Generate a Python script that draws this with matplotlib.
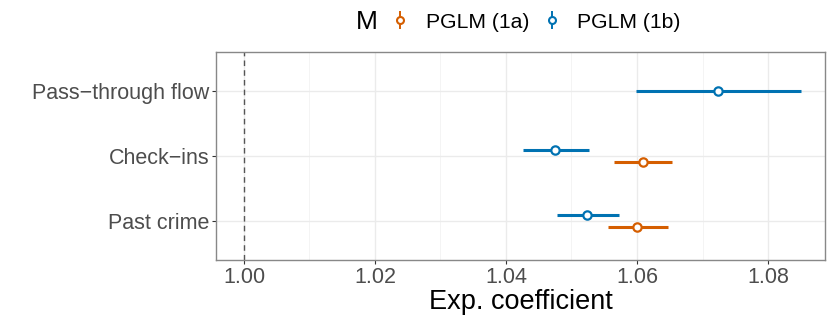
import numpy as np
import matplotlib.pyplot as plt
from matplotlib.lines import Line2D
from matplotlib.ticker import MultipleLocator

plt.rcParams['font.family'] = ['Liberation Sans', 'DejaVu Sans']

# data
categories = ['Past crime', 'Check\u2212ins', 'Pass\u2212through flow']
models = ['PGLM (1a)', 'PGLM (1b)']
colors = ['#D55E00', '#0072B2']

est_1a = [1.0600, 1.0609, np.nan]
lo_1a = [1.0555, 1.0565, np.nan]
hi_1a = [1.0647, 1.0654, np.nan]

est_1b = [1.0524, 1.0475, 1.0723]
lo_1b = [1.0478, 1.0426, 1.0598]
hi_1b = [1.0573, 1.0527, 1.0850]

fig = plt.figure(figsize=(8.3, 3.16), dpi=100)
ax = fig.add_axes([0.2602, 0.177, 0.994 - 0.2602, 0.835 - 0.177])

ypos = np.arange(1, len(categories) + 1)
offsets = [0.09, -0.09]
series = [(est_1a, lo_1a, hi_1a), (est_1b, lo_1b, hi_1b)]

for k, (est, lo, hi) in enumerate(series):
    for i in range(len(categories)):
        if np.isnan(est[i]):
            continue
        # dodge only where both models have a value
        both = all(not np.isnan(s[0][i]) for s in series)
        y = ypos[i] - (offsets[k] if both else 0)
        ax.plot([lo[i], hi[i]], [y, y], color=colors[k], lw=2.2, solid_capstyle='butt', zorder=3)
        ax.plot(est[i], y, 'o', ms=6, mfc='white', mec=colors[k], mew=1.6, zorder=4)

ax.axvline(1.0, color='#555555', ls=(0, (4, 3)), lw=1, zorder=2)

ax.set_xlim(0.99573, 1.0887)
ax.set_ylim(0.4, 3.6)
ax.xaxis.set_major_locator(MultipleLocator(0.02))
ax.xaxis.set_minor_locator(MultipleLocator(0.01))
ax.xaxis.set_major_formatter(plt.FuncFormatter(lambda v, p: f'{v:.2f}'))
ax.set_yticks(ypos)
ax.set_yticklabels(categories)

ax.grid(True, which='major', color='#EBEBEB', lw=1.0, zorder=0)
ax.grid(True, which='minor', axis='x', color='#F3F3F3', lw=0.6, zorder=0)
ax.set_axisbelow(True)
for s in ax.spines.values():
    s.set_color('#888888')
    s.set_linewidth(1)

ax.tick_params(axis='both', which='major', labelsize=15.5, colors='#4D4D4D', length=3,
               color='#333333', pad=2)
ax.tick_params(axis='both', which='minor', length=0)

ax.set_xlabel('Exp. coefficient', fontsize=19.5, color='black', labelpad=1)

handles = []
for c in colors:
    bar = Line2D([], [], ls='none', marker='|', ms=13, mew=1.4, color=c)
    dot = Line2D([], [], ls='none', marker='o', ms=5, mfc='white', mec=c, mew=1.5)
    handles.append((bar, dot))

fig.text(0.429, 0.93, 'M', fontsize=19, ha='left', va='center')
fig.legend(handles, models, ncol=2, loc='center left', bbox_to_anchor=(0.472, 0.93),
           frameon=False, fontsize=15.2, handlelength=0.8, handletextpad=0.8,
           columnspacing=0.7, borderpad=0, borderaxespad=0)

fig.savefig('out.png', dpi=100)
